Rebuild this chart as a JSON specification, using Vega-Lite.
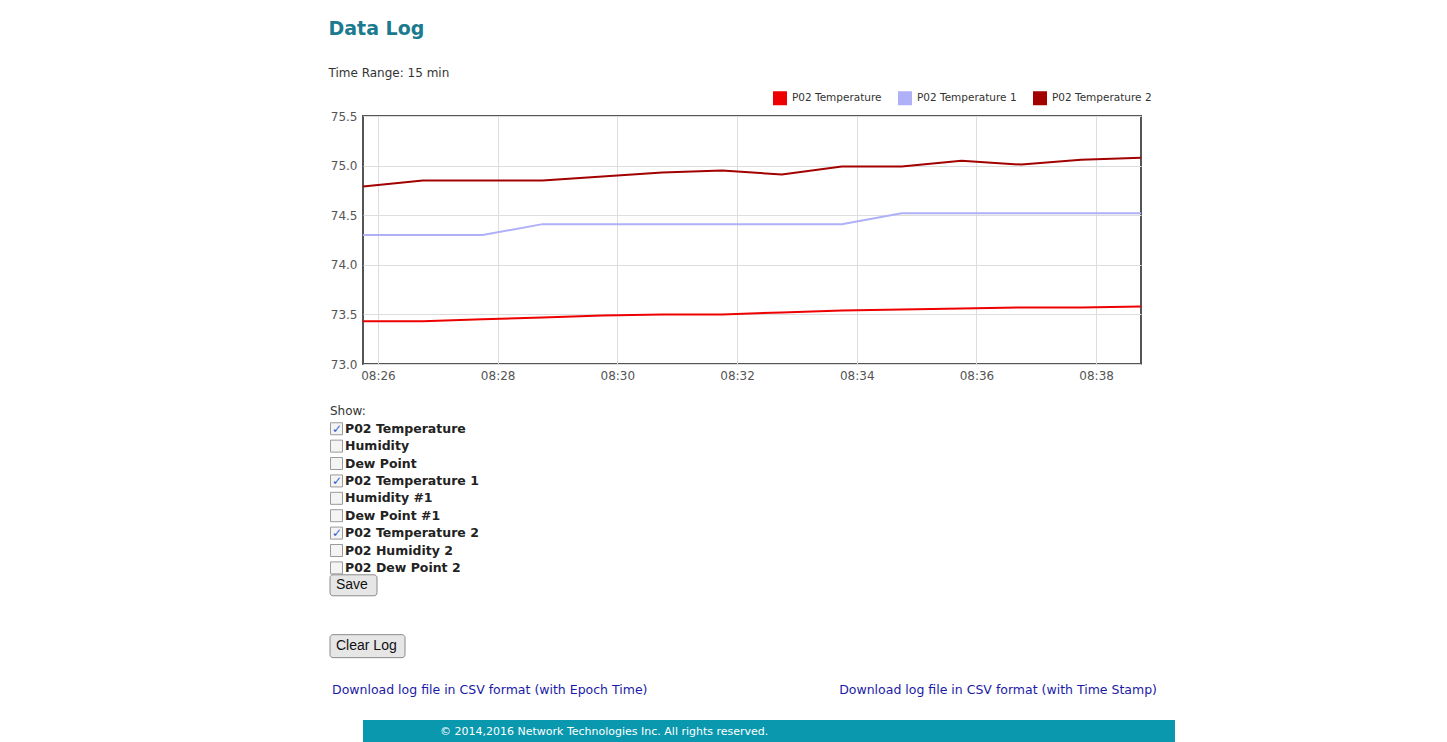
{
  "$schema": "https://vega.github.io/schema/vega-lite/v6.json",
  "background": "white",
  "padding": {"left": 328, "top": 20, "right": 0, "bottom": 0},
  "title": {
    "text": "Data Log",
    "anchor": "start",
    "font": "DejaVu Sans",
    "fontSize": 19,
    "fontWeight": "bold",
    "color": "#1b7a8e",
    "subtitle": "Time Range: 15 min",
    "subtitleFont": "DejaVu Sans",
    "subtitleFontSize": 12,
    "subtitleColor": "#333333",
    "subtitlePadding": 29,
    "offset": 12
  },
  "config": {
    "view": {"stroke": null},
    "font": "DejaVu Sans"
  },
  "spacing": 23,
  "vconcat": [
    {
      "width": 778,
      "height": 248,
      "view": {"stroke": "#555555", "strokeWidth": 2},
      "data": {
        "values": [
          {"time": "2016-01-01T08:25:45Z", "series": "P02 Temperature", "value": 73.43},
          {"time": "2016-01-01T08:26:45Z", "series": "P02 Temperature", "value": 73.43},
          {"time": "2016-01-01T08:27:45Z", "series": "P02 Temperature", "value": 73.45},
          {"time": "2016-01-01T08:28:45Z", "series": "P02 Temperature", "value": 73.47},
          {"time": "2016-01-01T08:29:45Z", "series": "P02 Temperature", "value": 73.49},
          {"time": "2016-01-01T08:30:45Z", "series": "P02 Temperature", "value": 73.5},
          {"time": "2016-01-01T08:31:45Z", "series": "P02 Temperature", "value": 73.5},
          {"time": "2016-01-01T08:32:45Z", "series": "P02 Temperature", "value": 73.52},
          {"time": "2016-01-01T08:33:45Z", "series": "P02 Temperature", "value": 73.54},
          {"time": "2016-01-01T08:34:45Z", "series": "P02 Temperature", "value": 73.55},
          {"time": "2016-01-01T08:35:45Z", "series": "P02 Temperature", "value": 73.56},
          {"time": "2016-01-01T08:36:45Z", "series": "P02 Temperature", "value": 73.57},
          {"time": "2016-01-01T08:37:45Z", "series": "P02 Temperature", "value": 73.57},
          {"time": "2016-01-01T08:38:45Z", "series": "P02 Temperature", "value": 73.58},
          {"time": "2016-01-01T08:25:45Z", "series": "P02 Temperature 1", "value": 74.3},
          {"time": "2016-01-01T08:26:45Z", "series": "P02 Temperature 1", "value": 74.3},
          {"time": "2016-01-01T08:27:45Z", "series": "P02 Temperature 1", "value": 74.3},
          {"time": "2016-01-01T08:28:45Z", "series": "P02 Temperature 1", "value": 74.41},
          {"time": "2016-01-01T08:29:45Z", "series": "P02 Temperature 1", "value": 74.41},
          {"time": "2016-01-01T08:30:45Z", "series": "P02 Temperature 1", "value": 74.41},
          {"time": "2016-01-01T08:31:45Z", "series": "P02 Temperature 1", "value": 74.41},
          {"time": "2016-01-01T08:32:45Z", "series": "P02 Temperature 1", "value": 74.41},
          {"time": "2016-01-01T08:33:45Z", "series": "P02 Temperature 1", "value": 74.41},
          {"time": "2016-01-01T08:34:45Z", "series": "P02 Temperature 1", "value": 74.52},
          {"time": "2016-01-01T08:35:45Z", "series": "P02 Temperature 1", "value": 74.52},
          {"time": "2016-01-01T08:36:45Z", "series": "P02 Temperature 1", "value": 74.52},
          {"time": "2016-01-01T08:37:45Z", "series": "P02 Temperature 1", "value": 74.52},
          {"time": "2016-01-01T08:38:45Z", "series": "P02 Temperature 1", "value": 74.52},
          {"time": "2016-01-01T08:25:45Z", "series": "P02 Temperature 2", "value": 74.79},
          {"time": "2016-01-01T08:26:45Z", "series": "P02 Temperature 2", "value": 74.85},
          {"time": "2016-01-01T08:27:45Z", "series": "P02 Temperature 2", "value": 74.85},
          {"time": "2016-01-01T08:28:45Z", "series": "P02 Temperature 2", "value": 74.85},
          {"time": "2016-01-01T08:29:45Z", "series": "P02 Temperature 2", "value": 74.89},
          {"time": "2016-01-01T08:30:45Z", "series": "P02 Temperature 2", "value": 74.93},
          {"time": "2016-01-01T08:31:45Z", "series": "P02 Temperature 2", "value": 74.95},
          {"time": "2016-01-01T08:32:45Z", "series": "P02 Temperature 2", "value": 74.91},
          {"time": "2016-01-01T08:33:45Z", "series": "P02 Temperature 2", "value": 74.99},
          {"time": "2016-01-01T08:34:45Z", "series": "P02 Temperature 2", "value": 74.99},
          {"time": "2016-01-01T08:35:45Z", "series": "P02 Temperature 2", "value": 75.05},
          {"time": "2016-01-01T08:36:45Z", "series": "P02 Temperature 2", "value": 75.01},
          {"time": "2016-01-01T08:37:45Z", "series": "P02 Temperature 2", "value": 75.06},
          {"time": "2016-01-01T08:38:45Z", "series": "P02 Temperature 2", "value": 75.08}
        ]
      },
      "mark": {"type": "line", "strokeWidth": 2},
      "encoding": {
        "x": {
          "field": "time",
          "type": "temporal",
          "scale": {"type": "utc", "nice": false},
          "axis": {
            "title": null,
            "format": "%H:%M",
            "values": [1451636760000, 1451636880000, 1451637000000, 1451637120000, 1451637240000, 1451637360000, 1451637480000],
            "grid": true,
            "gridColor": "#dddddd",
            "ticks": false,
            "domain": false,
            "labelFont": "DejaVu Sans",
            "labelFontSize": 12,
            "labelColor": "#555555",
            "labelPadding": 6,
            "labelFlush": false,
            "labelOverlap": false
          }
        },
        "y": {
          "field": "value",
          "type": "quantitative",
          "scale": {"domain": [73, 75.5], "nice": false, "zero": false},
          "axis": {
            "title": null,
            "values": [73, 73.5, 74, 74.5, 75, 75.5],
            "format": ".1f",
            "grid": true,
            "gridColor": "#dddddd",
            "ticks": false,
            "domain": false,
            "labelFont": "DejaVu Sans",
            "labelFontSize": 12,
            "labelColor": "#555555",
            "labelPadding": 6,
            "labelFlush": false
          }
        },
        "color": {
          "field": "series",
          "type": "nominal",
          "scale": {
            "domain": ["P02 Temperature", "P02 Temperature 1", "P02 Temperature 2"],
            "range": ["#ee0000", "#b0b0f8", "#a30000"]
          },
          "legend": {
            "orient": "none",
            "legendX": 410,
            "legendY": -25,
            "direction": "horizontal",
            "title": null,
            "symbolType": "square",
            "symbolSize": 49,
            "symbolStrokeWidth": 7,
            "labelFont": "DejaVu Sans",
            "labelFontSize": 10.5,
            "labelColor": "#333333",
            "labelOffset": 5,
            "columnPadding": 5
          }
        }
      }
    },
    {
      "width": 794,
      "height": 287,
      "data": {
        "values": [
          {"item": "Show:", "kind": "header", "checked": false},
          {"item": "P02 Temperature", "kind": "check", "checked": true},
          {"item": "Humidity", "kind": "check", "checked": false},
          {"item": "Dew Point", "kind": "check", "checked": false},
          {"item": "P02 Temperature 1", "kind": "check", "checked": true},
          {"item": "Humidity #1", "kind": "check", "checked": false},
          {"item": "Dew Point #1", "kind": "check", "checked": false},
          {"item": "P02 Temperature 2", "kind": "check", "checked": true},
          {"item": "P02 Humidity 2", "kind": "check", "checked": false},
          {"item": "P02 Dew Point 2", "kind": "check", "checked": false},
          {"item": "Save", "kind": "button", "checked": false},
          {"item": "Clear Log", "kind": "button", "checked": false},
          {"item": "Download log file in CSV format (with Epoch Time)", "kind": "link", "checked": false},
          {"item": "Download log file in CSV format (with Time Stamp)", "kind": "linkright", "checked": false}
        ]
      },
      "encoding": {
        "y": {
          "field": "item",
          "type": "nominal",
          "scale": {
            "type": "band",
            "paddingInner": 0,
            "paddingOuter": 0,
            "domain": [
              "Show:", "_g1", "P02 Temperature", "_g2", "Humidity", "_g3", "Dew Point", "_g4",
              "P02 Temperature 1", "_g5", "Humidity #1", "_g6", "Dew Point #1", "_g7",
              "P02 Temperature 2", "_g8", "P02 Humidity 2", "_g9", "P02 Dew Point 2", "_g10",
              "Save", "_g11", "_g12", "_g13", "_g14", "_g15", "_g16", "Clear Log",
              "_g17", "_g18", "_g19", "_g20",
              "Download log file in CSV format (with Epoch Time)"
            ]
          },
          "axis": null
        }
      },
      "layer": [
        {
          "transform": [{"filter": "datum.item === 'Save'"}],
          "mark": {"type": "rect", "height": 21, "fill": "#e6e6e6", "stroke": "#8a8a8a", "strokeWidth": 1, "cornerRadius": 3},
          "encoding": {"x": {"value": -33}, "x2": {"value": 14}}
        },
        {
          "transform": [{"filter": "datum.item === 'Clear Log'"}],
          "mark": {"type": "rect", "height": 23, "fill": "#e6e6e6", "stroke": "#8a8a8a", "strokeWidth": 1, "cornerRadius": 3},
          "encoding": {"x": {"value": -33}, "x2": {"value": 42}}
        },
        {
          "transform": [{"filter": "datum.kind === 'button'"}],
          "mark": {"type": "text", "align": "left", "dx": -27, "font": "Liberation Sans", "fontSize": 14, "color": "#111111"},
          "encoding": {"text": {"field": "item"}, "x": {"value": 0}}
        },
        {
          "transform": [{"filter": "datum.kind === 'header'"}],
          "mark": {"type": "text", "align": "left", "dx": -33, "font": "DejaVu Sans", "fontSize": 12, "color": "#333333"},
          "encoding": {"text": {"field": "item"}, "x": {"value": 0}}
        },
        {
          "transform": [{"filter": "datum.kind === 'check'"}],
          "mark": {"type": "point", "shape": "square", "size": 144, "filled": true, "fill": "#f4f4f4", "stroke": "#9a9a9a", "strokeWidth": 1, "opacity": 1},
          "encoding": {"x": {"value": -26.5}}
        },
        {
          "transform": [{"filter": "datum.checked"}],
          "mark": {"type": "text", "align": "center", "dx": -26, "font": "DejaVu Sans", "fontSize": 12, "fontWeight": "bold", "color": "#2f5bd3"},
          "encoding": {"text": {"value": "✓"}, "x": {"value": 0}}
        },
        {
          "transform": [{"filter": "datum.kind === 'check'"}],
          "mark": {"type": "text", "align": "left", "dx": -18, "font": "DejaVu Sans", "fontSize": 12.5, "fontWeight": "bold", "color": "#222222"},
          "encoding": {"text": {"field": "item"}, "x": {"value": 0}}
        },
        {
          "transform": [{"filter": "datum.kind === 'link'"}],
          "mark": {"type": "text", "align": "left", "dx": -31, "font": "DejaVu Sans", "fontSize": 12.5, "color": "#1a1aa6"},
          "encoding": {"text": {"field": "item"}, "x": {"value": 0}}
        },
        {
          "transform": [{"filter": "datum.kind === 'linkright'"}],
          "mark": {"type": "text", "align": "right", "font": "DejaVu Sans", "fontSize": 12.5, "color": "#1a1aa6"},
          "encoding": {
            "x": {"value": 794},
            "y": {"datum": "Download log file in CSV format (with Epoch Time)", "type": "nominal"},
            "text": {"field": "item"}
          }
        }
      ]
    },
    {
      "width": 812,
      "height": 24,
      "view": {"fill": "#0a98ae", "stroke": null},
      "data": {"values": [{"note": "© 2014,2016 Network Technologies Inc. All rights reserved."}]},
      "mark": {"type": "text", "align": "left", "font": "DejaVu Sans", "fontSize": 11, "color": "white"},
      "encoding": {"x": {"value": 77}, "text": {"field": "note"}}
    }
  ]
}
